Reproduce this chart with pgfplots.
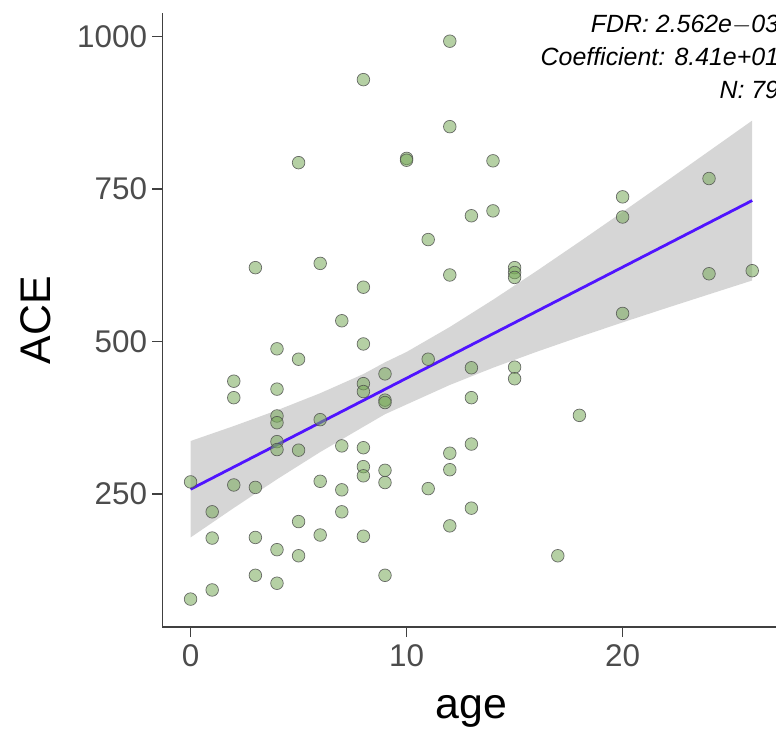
\documentclass[border=0pt]{standalone}
\usepackage{pgfplots}
\pgfplotsset{compat=1.18}
\usepackage{fontspec}
\setmainfont{Liberation Sans}
\definecolor{ptfill}{RGB}{120,170,90}
\definecolor{fitline}{RGB}{80,20,255}
\begin{document}
\begin{tikzpicture}
\begin{axis}[
  scale only axis,
  width=617.8bp, height=613.7bp,
  xmin=-1.3, xmax=27.3, ymin=32.3, ymax=1037.7,
  axis x line*=bottom, axis y line*=left,
  axis line style={-, black!75, line width=1.4bp},
  tick align=outside,
  major tick length=10bp,
  tick style={black!75, line width=1.4bp},
  xtick={0,10,20}, xticklabels={0,10,20},
  ytick={250,500,750,1000}, yticklabels={250,500,750,1000},
  tick label style={font=\fontsize{31.5}{31.5}\selectfont, text=black!70},
  xticklabel style={yshift=-4bp},
  yticklabel style={xshift=-2bp},
  xlabel={age}, ylabel={ACE},
  label style={font=\fontsize{43}{43}\selectfont},
  xlabel style={at={(axis description cs:0.5,-0.1483)}, anchor=base},
  ylabel style={at={(axis description cs:-0.2048,0.5)}, anchor=center},
  clip=false,
]
% observed points
\addplot[only marks, mark=*, mark size=6.3bp,
  mark options={fill=ptfill, fill opacity=0.55, draw=black!70, draw opacity=0.8, line width=0.7bp}]
  table[row sep=\\] {
x y\\
0 270\\ 0 78\\
1 221\\ 1 178\\ 1 93\\
2 435\\ 2 408\\ 2 265\\
3 621\\ 3 261\\ 3 179\\ 3 117\\
4 488\\ 4 422\\ 4 378\\ 4 367\\ 4 336\\ 4 323\\ 4 159\\ 4 104\\
5 793\\ 5 471\\ 5 322\\ 5 205\\ 5 149\\
6 628\\ 6 372\\ 6 271\\ 6 183\\
7 534\\ 7 329\\ 7 257\\ 7 221\\
8 929\\ 8 589\\ 8 496\\ 8 431\\ 8 418\\ 8 326\\ 8 295\\ 8 280\\ 8 181\\
9 447\\ 9 404\\ 9 400\\ 9 289\\ 9 269\\ 9 117\\
10 800\\ 10 797\\
11 667\\ 11 471\\ 11 259\\
12 992\\ 12 852\\ 12 609\\ 12 317\\ 12 290\\ 12 198\\
13 706\\ 13 457\\ 13 408\\ 13 332\\ 13 227\\
14 796\\ 14 714\\
15 621\\ 15 613\\ 15 605\\ 15 458\\ 15 439\\
17 149\\
18 379\\
20 737\\ 20 704\\ 20 546\\
24 767\\ 24 611\\
26 616\\
};
% confidence band
\addplot[draw=none, fill=black!40, fill opacity=0.4] coordinates {
(0,337) (2,361.5) (4,387.3) (6,415.3) (8,446.7) (9,465.9) (10,482.9) (12,523.8) (14,568.4) (16,615.1) (18,663.3) (20,712.3) (22,761.9) (24,811.9) (26,862)
(26,600) (24,577.3) (22,554.5) (20,531.3) (18,507.5) (16,482.9) (14,457.0) (12,428.8) (10,396.9) (9,380.9) (8,360.3) (6,318.9) (4,274.3) (2,227.3) (0,179)
} -- cycle;
% fitted line
\addplot[fitline, line width=2.8bp] coordinates {(0,258) (26,731)};
\node[anchor=north east, align=right, inner sep=0pt, xshift=-1bp, yshift=-2bp,
  font=\fontsize{25}{33}\selectfont\itshape]
  at (rel axis cs:1,1) {FDR: 2.562e$-$03\\Coefficient: 8.41e+01\\N: 79};
\end{axis}
\pgfresetboundingbox
\path[use as bounding box] ([shift={(-162.5bp,-109bp)}]current axis.south west) rectangle ([shift={(613.5bp,627bp)}]current axis.south west);
\end{tikzpicture}
\end{document}
